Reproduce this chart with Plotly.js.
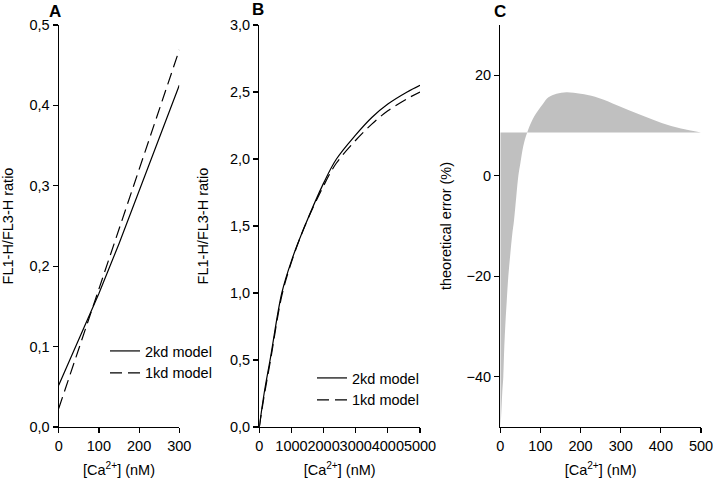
<!DOCTYPE html>
<html>
<head>
<meta charset="utf-8">
<script src="https://cdn.plot.ly/plotly-3.0.1.min.js"></script>
<style>html,body{margin:0;padding:0;background:#fff;}#chart{width:713px;height:494px;}</style>
</head>
<body>
<div id="chart"></div>
<script>
// Panel A data
const caA2kd = [0, 50, 100, 150, 200, 250, 300];
const ratioA2kd = [0.052, 0.108, 0.166, 0.228, 0.293, 0.359, 0.425];
const caA1kd = [0, 100, 200, 300];
const ratioA1kd = [0.023, 0.172, 0.320, 0.469];

// Panel B data
const caB = [0, 150, 350, 700, 1000, 1400, 2000, 2400, 3000, 3500, 4000, 4600, 5000];
const ratioB2kd = [0, 0.25, 0.52, 1.0, 1.24, 1.49, 1.82, 2.0, 2.18, 2.31, 2.41, 2.50, 2.55];
const ratioB1kd = [0, 0.23, 0.50, 0.98, 1.23, 1.49, 1.80, 1.97, 2.14, 2.26, 2.36, 2.45, 2.50];

// Panel C data
const caC = [0, 2, 5, 7.5, 10, 13, 16, 20, 25, 30, 34, 40, 45, 50, 55, 60, 67, 72, 78, 85, 95, 107, 120, 140, 165, 200, 236, 280, 319, 360, 402, 450, 500];
const errC = [-50, -48, -43, -40, -34, -29, -25, -20, -15.5, -11.5, -9, -4, 0, 2.5, 5, 6.8, 8.6, 9.7, 10.8, 11.9, 13.1, 14.4, 15.6, 16.3, 16.6, 16.3, 15.7, 14.4, 13.1, 11.8, 10.5, 9.4, 8.6];
const baseC = [0, 500];
const baseErr = [8.6, 8.6];

const seriesNames = ['2kd model', '1kd model'];
const panelLabels = ['A', 'B', 'C'];

const FONT = 'Liberation Sans, Arial, Helvetica, sans-serif';
const W = 713, H = 494;
const px = v => v / W;
const py = v => (H - v) / H;

const solid = {color: '#000', width: 1.2};
const dashed = {color: '#000', width: 1.2, dash: '12px,6px'};

const traces = [
  {x: caA2kd, y: ratioA2kd, xaxis: 'x', yaxis: 'y', mode: 'lines', line: solid, name: seriesNames[0], legend: 'legend', hoverinfo: 'skip'},
  {x: caA1kd, y: ratioA1kd, xaxis: 'x', yaxis: 'y', mode: 'lines', line: dashed, name: seriesNames[1], legend: 'legend', hoverinfo: 'skip'},
  {x: caB, y: ratioB2kd, xaxis: 'x2', yaxis: 'y2', mode: 'lines', line: Object.assign({shape: 'spline'}, solid), name: seriesNames[0], legend: 'legend2', hoverinfo: 'skip'},
  {x: caB, y: ratioB1kd, xaxis: 'x2', yaxis: 'y2', mode: 'lines', line: Object.assign({shape: 'spline'}, dashed), name: seriesNames[1], legend: 'legend2', hoverinfo: 'skip'},
  {x: baseC, y: baseErr, xaxis: 'x3', yaxis: 'y3', mode: 'lines', line: {width: 0, color: 'rgba(0,0,0,0)'}, showlegend: false, hoverinfo: 'skip'},
  {x: caC, y: errC, xaxis: 'x3', yaxis: 'y3', mode: 'lines', line: {width: 0, color: 'rgba(0,0,0,0)', shape: 'spline'}, fill: 'tonexty', fillcolor: '#c0c0c0', showlegend: false, hoverinfo: 'skip'}
];

const TICK = 14.5, TITLE = 14.5;
const yDom = [py(427), py(25)];
const axBase = {
  showline: true, linecolor: '#000', linewidth: 1.2,
  ticks: 'outside', ticklen: 5, tickwidth: 1.2, tickcolor: '#000',
  showgrid: false, zeroline: false,
  tickfont: {family: FONT, size: TICK, color: '#000'},
  tickangle: 0, ticklabeloverflow: 'allow',
  fixedrange: true
};
const xTitle = {text: '[Ca<sup>2+</sup>] (nM)', font: {family: FONT, size: TITLE, color: '#000'}, standoff: 12};
const yTitle = (t, s) => ({text: t, font: {family: FONT, size: TITLE, color: '#000'}, standoff: s});
const legFont = {family: FONT, size: TITLE, color: '#000'};

const layout = {
  width: W, height: H,
  margin: {l: 0, r: 0, t: 0, b: 0},
  paper_bgcolor: '#fff', plot_bgcolor: '#fff',
  separators: ',.',
  font: {family: FONT, color: '#000'},
  xaxis: Object.assign({}, axBase, {domain: [px(58.7), px(179.3)], anchor: 'y', range: [0, 300], tickmode: 'linear', tick0: 0, dtick: 100, title: xTitle}),
  yaxis: Object.assign({}, axBase, {domain: yDom, anchor: 'x', range: [0, 0.5], tickmode: 'linear', tick0: 0, dtick: 0.1, tickformat: '.1f', title: yTitle('FL1-H/FL3-H ratio', 20)}),
  xaxis2: Object.assign({}, axBase, {domain: [px(259.3), px(420)], anchor: 'y2', range: [0, 5000], tickmode: 'linear', tick0: 0, dtick: 1000, title: xTitle}),
  yaxis2: Object.assign({}, axBase, {domain: yDom, anchor: 'x2', range: [0, 3], tickmode: 'linear', tick0: 0, dtick: 0.5, tickformat: '.1f', title: yTitle('FL1-H/FL3-H ratio', 18)}),
  xaxis3: Object.assign({}, axBase, {domain: [px(500.3), px(701)], anchor: 'y3', range: [0, 500], tickmode: 'linear', tick0: 0, dtick: 100, title: xTitle}),
  yaxis3: Object.assign({}, axBase, {domain: yDom, anchor: 'x3', range: [-50, 30], tickmode: 'array', tickvals: [-40, -20, 0, 20], title: yTitle('theoretical error (%)', 11)}),
  legend: {x: px(105), xanchor: 'left', y: py(335), yanchor: 'top', bgcolor: 'rgba(0,0,0,0)', font: legFont, tracegroupgap: 0, traceorder: 'normal'},
  legend2: {x: px(312), xanchor: 'left', y: py(362), yanchor: 'top', bgcolor: 'rgba(0,0,0,0)', font: legFont, tracegroupgap: 0, traceorder: 'normal'},
  annotations: [
    {text: '<b>' + panelLabels[0] + '</b>', xref: 'paper', yref: 'paper', x: px(55), y: py(11), xanchor: 'center', yanchor: 'middle', showarrow: false, font: {family: FONT, size: 17, color: '#000'}},
    {text: '<b>' + panelLabels[1] + '</b>', xref: 'paper', yref: 'paper', x: px(258), y: py(10), xanchor: 'center', yanchor: 'middle', showarrow: false, font: {family: FONT, size: 17, color: '#000'}},
    {text: '<b>' + panelLabels[2] + '</b>', xref: 'paper', yref: 'paper', x: px(500), y: py(11), xanchor: 'center', yanchor: 'middle', showarrow: false, font: {family: FONT, size: 17, color: '#000'}}
  ],
  showlegend: true
};

Plotly.newPlot('chart', traces, layout, {staticPlot: true, displayModeBar: false});
</script>
</body>
</html>
